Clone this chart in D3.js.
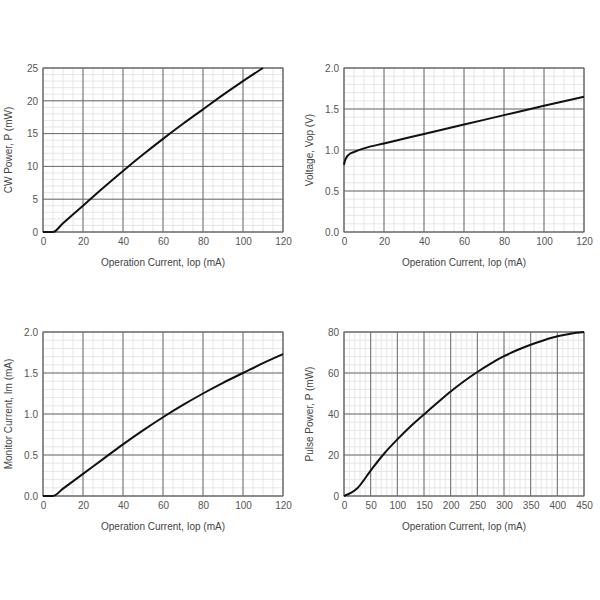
<!DOCTYPE html>
<html><head><meta charset="utf-8">
<script src="https://cdn.jsdelivr.net/npm/d3@7"></script>
<style>
body{margin:0;background:#fff;}
svg{font-family:"Liberation Sans",Arial,sans-serif;}
</style></head>
<body><svg id="c" width="600" height="600"></svg>
<script>
// ---- data ----
const cwCurrent = [0, 5, 10, 20, 30, 40, 50, 60, 70, 80, 90, 100, 110];
const cwPower   = [0, 0, 1.35, 4.0, 6.7, 9.3, 11.8, 14.2, 16.5, 18.7, 20.9, 23.0, 25];

const vCurrent = [0, 0.5, 1, 2, 3, 5, 10, 20, 40, 60, 80, 100, 120];
const vVoltage = [0.82, 0.87, 0.9, 0.935, 0.955, 0.975, 1.02, 1.08, 1.195, 1.31, 1.425, 1.54, 1.65];

const imCurrent = [0, 5, 10, 20, 30, 40, 50, 60, 70, 80, 90, 100, 110, 120];
const imMonitor = [0, 0, 0.09, 0.27, 0.45, 0.63, 0.8, 0.96, 1.11, 1.25, 1.38, 1.5, 1.62, 1.73];

const pCurrent = [0, 25, 50, 75, 100, 125, 150, 175, 200, 225, 250, 275, 300, 325, 350, 375, 400, 425, 450];
const pPower   = [0, 3.8, 12.4, 20.6, 27.6, 34.0, 39.8, 45.5, 51.0, 56.0, 60.5, 64.6, 68.2, 71.2, 73.8, 76.0, 77.9, 79.2, 80];

const xTitle = "Operation Current, Iop (mA)";
const charts = [
  {x: cwCurrent, y: cwPower, xDom: [0,120], xTicks: d3.range(0,121,20), xMinor: 5,
   yDom: [0,25], yTicks: d3.range(0,26,5), yMinor: 1, yFmt: d => d, yTitle: "CW Power, P (mW)",
   box: [43, 68, 283, 232], yTitleX: 8},
  {x: vCurrent, y: vVoltage, xDom: [0,120], xTicks: d3.range(0,121,20), xMinor: 5,
   yDom: [0,2], yTicks: [0,0.5,1,1.5,2], yMinor: 0.1, yFmt: d3.format(".1f"), yTitle: "Voltage, Vop (V)",
   box: [344, 68, 584, 232], yTitleX: 309},
  {x: imCurrent, y: imMonitor, xDom: [0,120], xTicks: d3.range(0,121,20), xMinor: 5,
   yDom: [0,2], yTicks: [0,0.5,1,1.5,2], yMinor: 0.1, yFmt: d3.format(".1f"), yTitle: "Monitor Current, Im (mA)",
   box: [43, 332, 283, 496], yTitleX: 8},
  {x: pCurrent, y: pPower, xDom: [0,450], xTicks: d3.range(0,451,50), xMinor: 10,
   yDom: [0,80], yTicks: d3.range(0,81,20), yMinor: 4, yFmt: d => d, yTitle: "Pulse Power, P (mW)",
   box: [344, 332, 584, 496], yTitleX: 309}
];

const svg = d3.select("#c");
charts.forEach(c => {
  const [x0, y0, x1, y1] = c.box;
  const xs = d3.scaleLinear().domain(c.xDom).range([x0, x1]);
  const ys = d3.scaleLinear().domain(c.yDom).range([y1, y0]);
  const g = svg.append("g");
  // minor grid
  const xm = d3.range(c.xDom[0], c.xDom[1] + 1e-9, c.xMinor);
  const ym = d3.range(c.yDom[0], c.yDom[1] + 1e-9, c.yMinor);
  g.append("g").selectAll("line").data(xm).join("line")
    .attr("x1", d => xs(d)).attr("x2", d => xs(d)).attr("y1", y0).attr("y2", y1)
    .attr("stroke", "#e0e0e0").attr("stroke-width", 0.8);
  g.append("g").selectAll("line").data(ym).join("line")
    .attr("y1", d => ys(d)).attr("y2", d => ys(d)).attr("x1", x0).attr("x2", x1)
    .attr("stroke", "#e0e0e0").attr("stroke-width", 0.8);
  // major grid
  g.append("g").selectAll("line").data(c.xTicks).join("line")
    .attr("x1", d => xs(d)).attr("x2", d => xs(d)).attr("y1", y0).attr("y2", y1)
    .attr("stroke", "#6a6a6a").attr("stroke-width", 1);
  g.append("g").selectAll("line").data(c.yTicks).join("line")
    .attr("y1", d => ys(d)).attr("y2", d => ys(d)).attr("x1", x0).attr("x2", x1)
    .attr("stroke", "#6a6a6a").attr("stroke-width", 1);
  g.append("rect").attr("x", x0).attr("y", y0).attr("width", x1 - x0).attr("height", y1 - y0)
    .attr("fill", "none").attr("stroke", "#6a6a6a").attr("stroke-width", 1);
  // axes (labels only)
  const xa = g.append("g").attr("transform", `translate(0,${y1})`)
    .call(d3.axisBottom(xs).tickValues(c.xTicks).tickSize(0).tickPadding(6));
  const ya = g.append("g").attr("transform", `translate(${x0},0)`)
    .call(d3.axisLeft(ys).tickValues(c.yTicks).tickFormat(c.yFmt).tickSize(0).tickPadding(5));
  [xa, ya].forEach(a => {
    a.select(".domain").remove();
    a.selectAll("text").attr("font-size", 10).attr("fill", "#555")
      .attr("font-family", '"Liberation Sans",Arial,sans-serif');
  });
  // titles
  g.append("text").attr("x", (x0 + x1) / 2).attr("y", y1 + 34).attr("text-anchor", "middle")
    .attr("font-size", 10).attr("fill", "#444").text(xTitle);
  g.append("text").attr("transform", `translate(${c.yTitleX},${(y0 + y1) / 2}) rotate(-90)`)
    .attr("text-anchor", "middle").attr("dy", "0.35em")
    .attr("font-size", 10).attr("fill", "#444").text(c.yTitle);
  // curve
  const pts = c.x.map((v, i) => [v, c.y[i]]);
  g.append("path").datum(pts)
    .attr("d", d3.line().x(d => xs(d[0])).y(d => ys(d[1])).curve(d3.curveMonotoneX))
    .attr("fill", "none").attr("stroke", "#111").attr("stroke-width", 2);
});
</script></body></html>
